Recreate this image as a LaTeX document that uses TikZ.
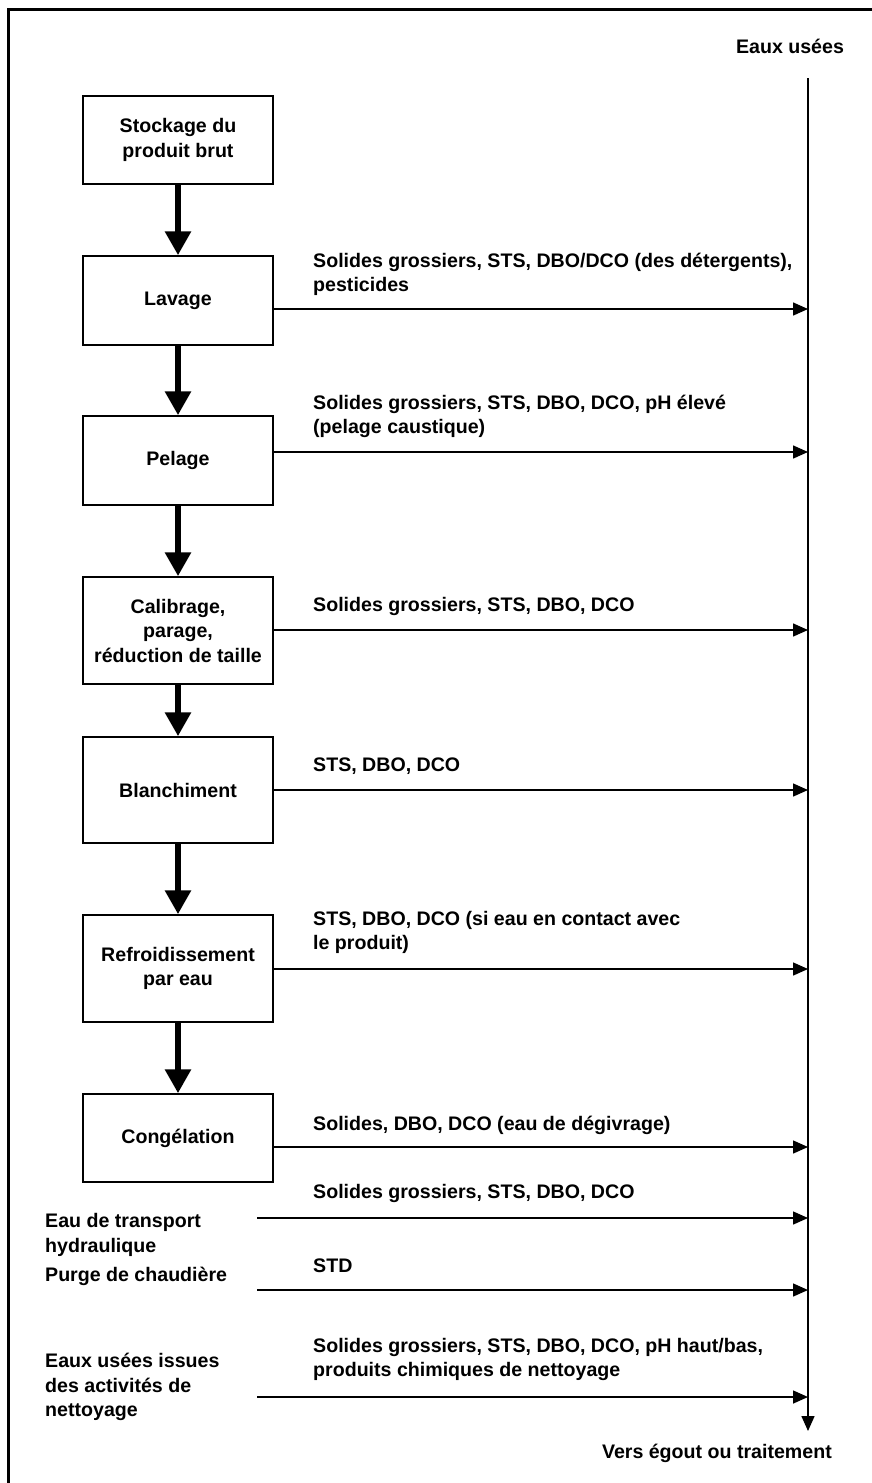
\documentclass[tikz,border=0pt]{standalone}
\usepackage{fontspec}
\setmainfont{Liberation Sans}
\usetikzlibrary{arrows.meta}
\begin{document}
\begin{tikzpicture}[x=1pt,y=-1pt,
  font=\fontsize{19.6}{24.5}\selectfont\bfseries,
  box/.style={draw, line width=1.5pt, minimum width=190pt, inner sep=0pt, align=center},
  flow/.style={line width=6pt, -{Triangle[width=25pt,length=24pt]}},
  outarr/.style={line width=1.5pt, -{Triangle[width=13pt,length=15pt]}},
  lbl/.style={anchor=west, align=left, inner sep=0pt},
  side/.style={anchor=west, align=left, inner sep=0pt}]
\useasboundingbox (0,0) rectangle (872,1483);
% frame
\draw[line width=3pt] (8,1483) -- (8,9) -- (872,9);
% titles
\node[inner sep=0pt] (eu) at (790,46) {Eaux usées};
\node[inner sep=0pt, anchor=east] (ve) at (832,1453) {Vers égout ou traitement};
% main vertical line
\coordinate (vtop) at (808,78);
\coordinate (vbot) at (808,1431);
\draw[outarr] (vtop) -- (vbot);
% boxes
\node[box, minimum height=88pt] (stock) at (178,140) {Stockage du\\produit brut};
\node[box, minimum height=89pt] (lav) at (178,300.5) {Lavage};
\node[box, minimum height=89pt] (pel) at (178,460.5) {Pelage};
\node[box, minimum height=107pt] (cal) at (178,630.5) {Calibrage,\\parage,\\réduction de taille};
\node[box, minimum height=106pt] (bla) at (178,790) {Blanchiment};
\node[box, minimum height=107pt] (ref) at (178,968.5) {Refroidissement\\par eau};
\node[box, minimum height=88pt] (con) at (178,1138) {Congélation};
% flow arrows
\draw[flow] (stock) -- (lav);
\draw[flow] (lav) -- (pel);
\draw[flow] (pel) -- (cal);
\draw[flow] (cal) -- (bla);
\draw[flow] (bla) -- (ref);
\draw[flow] (ref) -- (con);
% arrow ends on the vertical line
\coordinate (w1) at (808,309);
\coordinate (w2) at (808,452);
\coordinate (w3) at (808,630);
\coordinate (w4) at (808,790);
\coordinate (w5) at (808,969);
\coordinate (w6) at (808,1147);
\coordinate (w7) at (808,1218);
\coordinate (w8) at (808,1290);
\coordinate (w9) at (808,1397);
\coordinate (s7) at (257,1218);
\coordinate (s8) at (257,1290);
\coordinate (s9) at (257,1397);
\draw[outarr] (lav.east |- w1) -- (w1);
\draw[outarr] (pel.east |- w2) -- (w2);
\draw[outarr] (cal.east |- w3) -- (w3);
\draw[outarr] (bla.east |- w4) -- (w4);
\draw[outarr] (ref.east |- w5) -- (w5);
\draw[outarr] (con.east |- w6) -- (w6);
\draw[outarr] (s7) -- (w7);
\draw[outarr] (s8) -- (w8);
\draw[outarr] (s9) -- (w9);
% labels
\node[lbl] (l1) at (313,274.5) {Solides grossiers, STS, DBO/DCO (des détergents),\\pesticides};
\node[lbl] (l2) at (313,416.5) {Solides grossiers, STS, DBO, DCO, pH élevé\\(pelage caustique)};
\node[lbl] (l3) at (313,606) {Solides grossiers, STS, DBO, DCO};
\node[lbl] (l4) at (313,766) {STS, DBO, DCO};
\node[lbl] (l5) at (313,932.5) {STS, DBO, DCO (si eau en contact avec\\le produit)};
\node[lbl] (l6) at (313,1125) {Solides, DBO, DCO (eau de dégivrage)};
\node[lbl] (l7) at (313,1193) {Solides grossiers, STS, DBO, DCO};
\node[lbl] (l8) at (313,1266) {STD};
\node[lbl] (l9) at (313,1359.5) {Solides grossiers, STS, DBO, DCO, pH haut/bas,\\produits chimiques de nettoyage};
% side sources
\node[side] (t1) at (45,1235) {Eau de transport\\hydraulique};
\node[side] (t2) at (45,1276) {Purge de chaudière};
\node[side] (t3) at (45,1387) {Eaux usées issues\\des activités de\\nettoyage};
\end{tikzpicture}
\end{document}
